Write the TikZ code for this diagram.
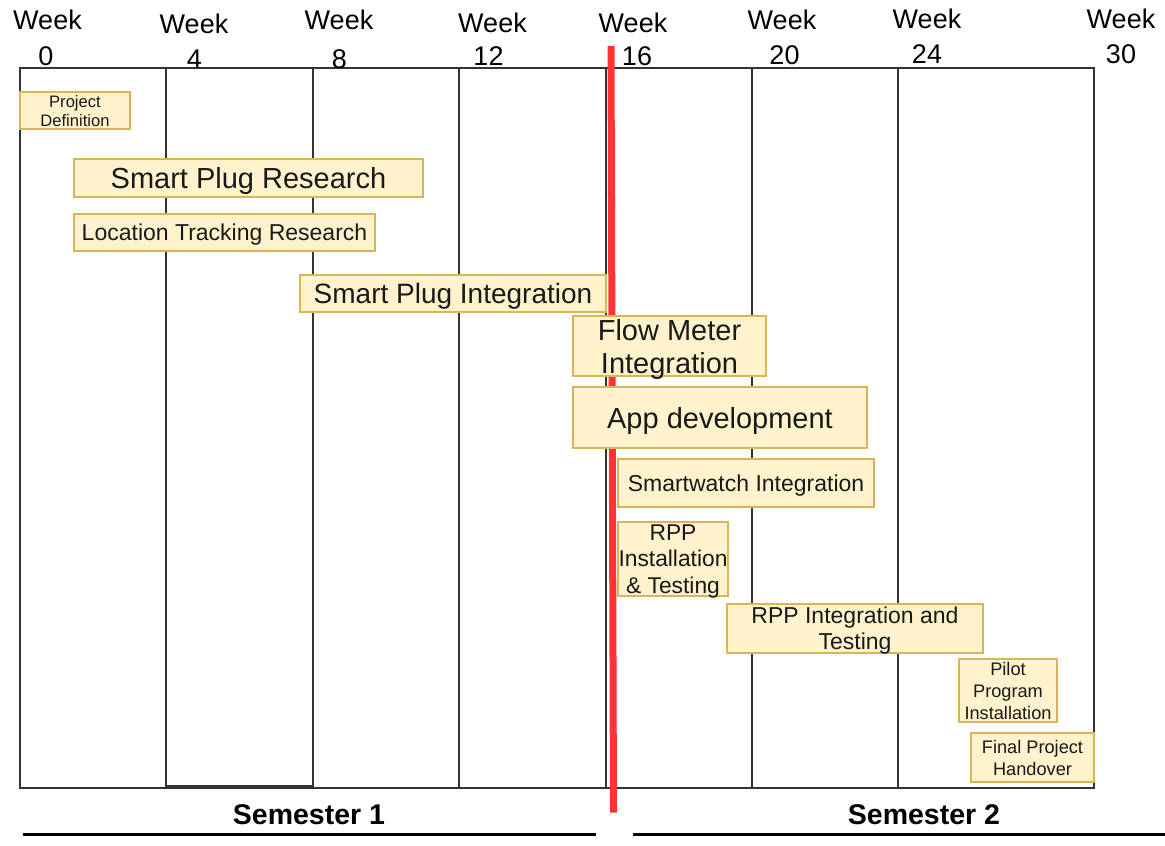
\documentclass[tikz,border=0pt]{standalone}
\usepackage{fontspec}
\setmainfont{Liberation Sans}
\definecolor{taskfill}{HTML}{FFF2CC}
\definecolor{taskline}{HTML}{D6B656}
\definecolor{gridline}{HTML}{333333}
\definecolor{nowline}{HTML}{FF3333}

\tikzset{
  task/.style={draw=taskline, fill=taskfill, line width=1.2pt, inner sep=0pt,
    align=center, text=black!90, text depth=0pt},
  weeklbl/.style={anchor=base, inner sep=0pt, font=\fontsize{27}{27}\selectfont},
  semlbl/.style={anchor=base, inner sep=0pt, font=\fontsize{28.5}{28.5}\selectfont\bfseries},
  gridbox/.style={draw=gridline, line width=1.5pt},
  semrule/.style={line width=3.3pt, black},
  nowrule/.style={nowline, line width=7pt},
}

\begin{document}
\begin{tikzpicture}[x=1pt, y=-1pt]
\useasboundingbox (0,0) rectangle (1165,846);

% timeline grid
\draw[gridbox] (20,68) rectangle (1094,788);
\draw[gridbox] (166,68) rectangle (313,786);
\foreach \gx in {459,606,752,898}
  \draw[gridbox] (\gx,68) -- (\gx,788);

% week headers
\foreach \wx/\wy/\nx/\ny/\n in {47.5/29/46/65/0, 194/33/194.5/68/4, 339/29/339.5/68/8,
    492.5/32/488.5/65/12, 633/32/637/65/16, 782/29/784.5/64/20,
    927/28/927/63/24, 1121/28/1121/63/30}{
  \node[weeklbl] (week\n) at (\wx,\wy) {Week};
  \node[weeklbl] (num\n) at (\nx,\ny) {\n};
}

% current-week marker
\coordinate (nowtop) at (611,46);
\coordinate (nowbot) at (613.5,812.5);
\draw[nowrule] (nowtop) -- (nowbot);

% tasks
\node[task, minimum width=110pt, minimum height=37pt,
  font=\fontsize{16.6}{19}\selectfont] (pd) at (75,110.5) {Project\\Definition};
\node[task, minimum width=349pt, minimum height=38pt,
  font=\fontsize{29}{33}\selectfont] (spr) at (248.5,178) {Smart Plug Research};
\node[task, minimum width=301pt, minimum height=37pt,
  font=\fontsize{23}{26}\selectfont] (ltr) at (224.5,232.5) {Location Tracking Research};
\node[task, minimum width=306pt, minimum height=37pt,
  font=\fontsize{28}{32}\selectfont] (spi) at (453,293.5) {Smart Plug Integration};
\node[task, minimum width=193pt, minimum height=60pt,
  font=\fontsize{29}{33}\selectfont] (fmi) at (669.5,346) {Flow Meter\\Integration};
\node[task, minimum width=294pt, minimum height=61pt,
  font=\fontsize{29}{33}\selectfont] (app) at (720,417.5) {App development};
\node[task, minimum width=256pt, minimum height=48pt,
  font=\fontsize{23}{26}\selectfont] (swi) at (746,483) {Smartwatch Integration};
\node[task, minimum width=110pt, minimum height=74pt,
  font=\fontsize{22.8}{26.5}\selectfont] (rppi) at (673,559) {RPP\\Installation\\\& Testing};
\node[task, minimum width=256pt, minimum height=49pt,
  font=\fontsize{23}{26}\selectfont] (rppt) at (855,628.5) {RPP Integration and\\Testing};
\node[task, minimum width=98pt, minimum height=63pt,
  font=\fontsize{18.2}{22}\selectfont] (pilot) at (1008,690.5) {Pilot\\Program\\Installation};
\node[task, minimum width=123pt, minimum height=49pt,
  font=\fontsize{18.2}{22}\selectfont] (handover) at (1032.5,757.5) {Final Project\\Handover};

% semesters
\node[semlbl] (sem1) at (309,824) {Semester 1};
\node[semlbl] (sem2) at (924,824) {Semester 2};
\coordinate (s1a) at (23,834.5);
\coordinate (s1b) at (596,834.5);
\coordinate (s2a) at (633,834.5);
\coordinate (s2b) at (1165,834.5);
\draw[semrule] (s1a) -- (s1b);
\draw[semrule] (s2a) -- (s2b);
\end{tikzpicture}
\end{document}
